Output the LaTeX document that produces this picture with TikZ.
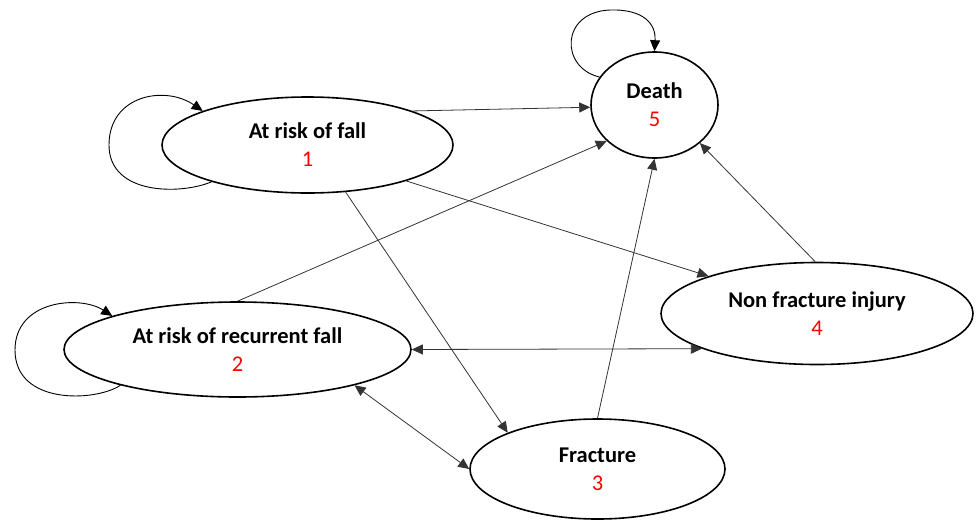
\documentclass[tikz,border=0pt]{standalone}
\usepackage{fontspec}
\setmainfont{Carlito}
\usetikzlibrary{shapes.geometric,arrows.meta}
\begin{document}
\begin{tikzpicture}[x=1pt,y=-1pt,
 state/.style={ellipse,draw,line width=1.6pt,inner sep=0pt,align=center,
   font=\fontsize{22.5}{28}\selectfont\bfseries},
 tip/.style={-{Triangle[length=11pt,width=10pt]}},
 conn/.style={line width=0.8pt,draw=black!80,tip},
 both/.style={line width=0.8pt,draw=black!80,{Triangle[length=11pt,width=10pt]}-{Triangle[length=11pt,width=10pt]}},
 loopc/.style={line width=0.9pt,tip}]
\useasboundingbox (0,0) rectangle (976,520);
\node[state,minimum width=127pt,minimum height=106pt] (d) at (654.5,105) {Death\\\textcolor{red}{\mdseries 5}};
\node[state,minimum width=291pt,minimum height=96pt] (f) at (307.5,145) {At risk of fall\\\textcolor{red}{\mdseries 1}};
\node[state,minimum width=347pt,minimum height=95pt] (r) at (237.5,349.5) {At risk of recurrent fall\\\textcolor{red}{\mdseries 2}};
\node[state,minimum width=312pt,minimum height=102pt] (n) at (817,313.5) {Non fracture injury\\\textcolor{red}{\mdseries 4}};
\node[state,minimum width=255pt,minimum height=100pt] (c) at (597.5,469) {Fracture\\\textcolor{red}{\mdseries 3}};
% self loops
\draw[loopc] (d.153) .. controls (560,68) and (560,12) .. (610,10) .. controls (645,9) and (656,25) .. (d.90);
\draw[loopc] (f.201) .. controls (180,195) and (109,195) .. (109,145) .. controls (109,95) and (165,85) .. (f.162);
\draw[loopc] (r.197) .. controls (95,402) and (15,405) .. (15,350) .. controls (15,300) and (80,295) .. (r.165);
% transitions
\draw[conn] (f.18) -- (d.182);
\draw[conn] (f.340) -- (n.161.5);
\draw[conn] (f.309) -- (c.158);
\draw[conn] (r.90) -- (d.217);
\draw[both] (r.0) -- (n.197.6);
\draw[both] (r.343.7) -- (c.180);
\draw[conn] (c.90) -- (d.270);
\draw[conn] (n.92) -- (d.320.5);
\end{tikzpicture}
\end{document}
